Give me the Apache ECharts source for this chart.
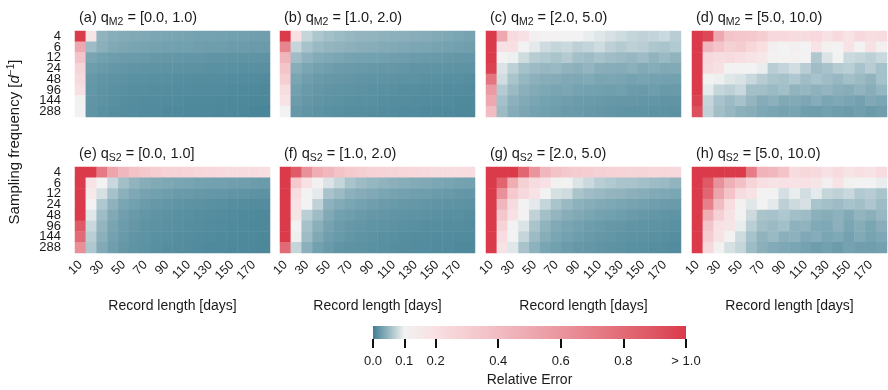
<!DOCTYPE html>
<html>
<head>
<meta charset="utf-8">
<script src="https://cdn.jsdelivr.net/npm/echarts@6/dist/echarts.min.js"></script>
<style>
html,body{margin:0;padding:0;background:#fff;}
#chart{width:888px;height:390px;}
</style>
</head>
<body>
<div id="chart"></div>
<script>
// ---------- categories ----------
const recordLengths = ['10','20','30','40','50','60','70','80','90','100','110','120','130','140','150','160','170','180'];
const samplingFreqs = ['4','6','12','24','48','96','144','288'];
const colorbarTicks = [0, 0.1, 0.2, 0.4, 0.6, 0.8, 1.0];

// ---------- panel titles ----------
const panelTags = ['(a)','(b)','(c)','(d)','(e)','(f)','(g)','(h)'];
const panelSubs = ['M2','M2','M2','M2','S2','S2','S2','S2'];
const panelRanges = ['[0.0, 1.0)','[1.0, 2.0)','[2.0, 5.0)','[5.0, 10.0)','[0.0, 1.0]','[1.0, 2.0)','[2.0, 5.0)','[5.0, 10.0)'];

// ---------- relative error, rows = sampling frequency, cols = record length ----------
const errM2_0_1 = [
[1.0,0.17,0.045,0.04,0.038,0.036,0.035,0.034,0.033,0.032,0.031,0.03,0.03,0.029,0.028,0.028,0.027,0.027],
[0.5,0.053,0.042,0.036,0.034,0.032,0.031,0.03,0.029,0.028,0.028,0.027,0.026,0.026,0.025,0.025,0.024,0.024],
[0.35,0.032,0.028,0.026,0.025,0.024,0.023,0.022,0.021,0.021,0.02,0.02,0.019,0.019,0.018,0.018,0.018,0.017],
[0.26,0.026,0.023,0.021,0.02,0.019,0.018,0.018,0.017,0.017,0.016,0.016,0.015,0.015,0.015,0.014,0.014,0.014],
[0.23,0.022,0.019,0.017,0.016,0.015,0.015,0.014,0.014,0.013,0.013,0.012,0.012,0.012,0.011,0.011,0.011,0.01],
[0.2,0.02,0.017,0.015,0.014,0.013,0.013,0.012,0.012,0.011,0.011,0.01,0.01,0.01,0.009,0.009,0.009,0.008],
[0.11,0.019,0.016,0.014,0.013,0.012,0.011,0.011,0.01,0.01,0.009,0.009,0.009,0.008,0.008,0.008,0.007,0.007],
[0.1,0.018,0.015,0.013,0.012,0.011,0.01,0.01,0.009,0.009,0.008,0.008,0.008,0.007,0.007,0.007,0.006,0.006]
];
const errM2_1_2 = [
[1.0,0.2,0.075,0.062,0.056,0.052,0.049,0.047,0.046,0.044,0.043,0.042,0.04,0.039,0.037,0.035,0.033,0.031],
[0.68,0.075,0.058,0.05,0.047,0.045,0.043,0.041,0.04,0.038,0.037,0.035,0.034,0.033,0.031,0.03,0.028,0.027],
[0.44,0.054,0.044,0.038,0.035,0.033,0.031,0.03,0.029,0.028,0.027,0.026,0.025,0.024,0.023,0.022,0.021,0.02],
[0.35,0.04,0.033,0.029,0.027,0.025,0.024,0.023,0.022,0.021,0.021,0.02,0.019,0.019,0.018,0.018,0.017,0.017],
[0.3,0.033,0.027,0.024,0.022,0.021,0.02,0.019,0.018,0.018,0.017,0.016,0.016,0.015,0.015,0.014,0.014,0.013],
[0.21,0.028,0.023,0.021,0.019,0.018,0.017,0.016,0.015,0.015,0.014,0.013,0.013,0.012,0.012,0.011,0.011,0.01],
[0.18,0.025,0.021,0.019,0.017,0.016,0.015,0.014,0.014,0.013,0.012,0.012,0.011,0.011,0.01,0.01,0.009,0.009],
[0.1,0.022,0.019,0.017,0.015,0.014,0.013,0.013,0.012,0.011,0.011,0.01,0.01,0.009,0.009,0.009,0.008,0.008]
];
const errM2_2_5 = [
[1.0,0.5,0.22,0.19,0.12,0.105,0.1,0.1,0.1,0.095,0.09,0.085,0.08,0.075,0.072,0.074,0.078,0.068],
[1.0,0.19,0.2,0.1,0.092,0.08,0.075,0.078,0.07,0.074,0.08,0.07,0.066,0.07,0.068,0.062,0.06,0.064],
[1.0,0.1,0.098,0.08,0.067,0.064,0.06,0.065,0.056,0.053,0.058,0.054,0.051,0.049,0.053,0.045,0.05,0.045],
[0.97,0.087,0.07,0.057,0.052,0.049,0.05,0.045,0.043,0.047,0.041,0.04,0.039,0.042,0.037,0.039,0.036,0.037],
[0.75,0.082,0.06,0.048,0.043,0.04,0.039,0.036,0.035,0.037,0.033,0.034,0.032,0.03,0.032,0.03,0.029,0.028],
[0.58,0.066,0.051,0.042,0.038,0.035,0.032,0.034,0.03,0.029,0.028,0.027,0.028,0.025,0.024,0.026,0.023,0.024],
[0.5,0.057,0.043,0.037,0.033,0.03,0.028,0.027,0.025,0.024,0.023,0.022,0.021,0.021,0.02,0.02,0.019,0.019],
[0.4,0.052,0.039,0.034,0.03,0.028,0.026,0.024,0.023,0.022,0.021,0.02,0.019,0.018,0.018,0.017,0.017,0.016]
];
const errM2_5_10 = [
[1.0,0.95,0.5,0.35,0.34,0.33,0.3,0.24,0.24,0.22,0.22,0.24,0.19,0.23,0.18,0.24,0.21,0.22],
[1.0,0.42,0.35,0.29,0.31,0.25,0.2,0.12,0.1,0.12,0.1,0.18,0.11,0.1,0.18,0.1,0.19,0.12],
[1.0,0.24,0.21,0.22,0.2,0.18,0.16,0.11,0.1,0.11,0.1,0.063,0.087,0.1,0.078,0.075,0.07,0.077],
[1.0,0.22,0.19,0.1,0.1,0.1,0.095,0.068,0.074,0.082,0.068,0.054,0.058,0.066,0.069,0.059,0.067,0.057],
[1.0,0.1,0.098,0.09,0.086,0.077,0.067,0.06,0.057,0.063,0.054,0.059,0.054,0.049,0.056,0.051,0.045,0.057],
[1.0,0.093,0.075,0.07,0.077,0.056,0.055,0.05,0.055,0.045,0.048,0.044,0.047,0.042,0.04,0.045,0.041,0.048],
[0.97,0.075,0.059,0.052,0.058,0.047,0.039,0.043,0.036,0.037,0.034,0.039,0.033,0.035,0.032,0.029,0.036,0.033],
[0.92,0.072,0.055,0.049,0.043,0.041,0.035,0.033,0.031,0.032,0.027,0.026,0.028,0.026,0.025,0.027,0.024,0.027]
];
const errS2_0_1 = [
[1.0,1.0,0.73,0.52,0.42,0.36,0.33,0.3,0.28,0.27,0.26,0.25,0.24,0.23,0.22,0.22,0.21,0.2],
[1.0,0.18,0.1,0.077,0.056,0.045,0.04,0.037,0.035,0.033,0.032,0.03,0.029,0.028,0.027,0.026,0.025,0.024],
[1.0,0.15,0.084,0.057,0.042,0.035,0.031,0.028,0.026,0.024,0.023,0.022,0.021,0.02,0.019,0.018,0.017,0.016],
[1.0,0.1,0.063,0.044,0.033,0.028,0.025,0.022,0.02,0.019,0.017,0.016,0.015,0.014,0.013,0.012,0.011,0.011],
[1.0,0.09,0.053,0.036,0.027,0.023,0.02,0.018,0.016,0.015,0.014,0.013,0.012,0.011,0.01,0.009,0.009,0.008],
[0.88,0.077,0.047,0.032,0.025,0.021,0.018,0.016,0.015,0.014,0.013,0.012,0.011,0.01,0.009,0.009,0.008,0.008],
[0.8,0.069,0.042,0.029,0.023,0.019,0.017,0.015,0.014,0.013,0.012,0.011,0.01,0.009,0.009,0.008,0.008,0.007],
[0.63,0.063,0.037,0.027,0.021,0.018,0.016,0.014,0.013,0.012,0.011,0.01,0.009,0.009,0.008,0.008,0.007,0.007]
];
const errS2_1_2 = [
[1.0,0.87,0.62,0.48,0.42,0.36,0.32,0.3,0.28,0.27,0.26,0.25,0.24,0.23,0.22,0.22,0.21,0.21],
[1.0,0.32,0.19,0.11,0.087,0.075,0.06,0.053,0.048,0.045,0.042,0.04,0.038,0.036,0.034,0.032,0.03,0.029],
[1.0,0.21,0.1,0.092,0.059,0.051,0.043,0.039,0.036,0.033,0.031,0.029,0.027,0.026,0.024,0.023,0.021,0.02],
[1.0,0.18,0.1,0.072,0.044,0.038,0.033,0.03,0.027,0.025,0.023,0.022,0.021,0.02,0.019,0.018,0.017,0.016],
[1.0,0.17,0.069,0.053,0.037,0.029,0.026,0.023,0.021,0.02,0.019,0.018,0.017,0.016,0.015,0.014,0.014,0.013],
[1.0,0.1,0.057,0.042,0.031,0.025,0.022,0.02,0.018,0.017,0.016,0.015,0.014,0.013,0.013,0.012,0.012,0.011],
[1.0,0.098,0.053,0.036,0.027,0.023,0.02,0.018,0.016,0.015,0.014,0.013,0.012,0.012,0.011,0.011,0.01,0.01],
[0.8,0.075,0.042,0.028,0.023,0.019,0.017,0.016,0.015,0.014,0.013,0.012,0.011,0.011,0.01,0.01,0.009,0.009]
];
const errS2_2_5 = [
[1.0,1.0,1.0,0.82,0.6,0.42,0.36,0.33,0.31,0.3,0.29,0.28,0.27,0.26,0.26,0.25,0.25,0.24],
[1.0,0.83,0.48,0.29,0.22,0.19,0.11,0.1,0.087,0.078,0.068,0.064,0.06,0.059,0.056,0.053,0.05,0.046],
[1.0,0.62,0.32,0.24,0.18,0.1,0.084,0.08,0.06,0.054,0.05,0.047,0.045,0.042,0.04,0.037,0.035,0.033],
[1.0,0.43,0.22,0.1,0.092,0.075,0.06,0.05,0.044,0.04,0.037,0.035,0.033,0.031,0.029,0.027,0.025,0.024],
[1.0,0.34,0.19,0.1,0.072,0.056,0.047,0.04,0.036,0.033,0.03,0.028,0.026,0.024,0.022,0.02,0.019,0.018],
[1.0,0.27,0.1,0.087,0.06,0.045,0.037,0.032,0.029,0.026,0.024,0.022,0.021,0.019,0.018,0.017,0.016,0.015],
[1.0,0.21,0.1,0.075,0.052,0.04,0.033,0.029,0.026,0.023,0.021,0.02,0.018,0.017,0.016,0.015,0.014,0.013],
[1.0,0.18,0.09,0.059,0.044,0.033,0.028,0.025,0.022,0.02,0.019,0.017,0.016,0.015,0.014,0.013,0.012,0.011]
];
const errS2_5_10 = [
[1.0,1.0,1.0,1.0,1.0,0.72,0.45,0.42,0.36,0.22,0.25,0.23,0.19,0.22,0.18,0.2,0.18,0.22],
[1.0,0.88,0.62,0.46,0.38,0.26,0.2,0.18,0.19,0.18,0.19,0.17,0.12,0.18,0.11,0.1,0.1,0.095],
[1.0,0.82,0.52,0.36,0.22,0.18,0.1,0.1,0.083,0.095,0.082,0.093,0.075,0.071,0.077,0.064,0.067,0.06],
[1.0,0.7,0.4,0.21,0.11,0.09,0.1,0.092,0.07,0.079,0.085,0.06,0.056,0.053,0.058,0.055,0.062,0.053],
[1.0,0.48,0.29,0.18,0.1,0.079,0.06,0.058,0.063,0.055,0.053,0.042,0.04,0.044,0.037,0.046,0.042,0.049],
[1.0,0.35,0.19,0.17,0.095,0.069,0.055,0.051,0.056,0.044,0.045,0.037,0.035,0.043,0.033,0.04,0.033,0.041],
[1.0,0.31,0.18,0.1,0.08,0.058,0.045,0.05,0.042,0.044,0.035,0.039,0.033,0.035,0.029,0.037,0.031,0.035],
[1.0,0.24,0.11,0.084,0.075,0.053,0.042,0.038,0.035,0.033,0.03,0.026,0.028,0.025,0.03,0.027,0.027,0.029]
];
const panels = [errM2_0_1, errM2_1_2, errM2_2_5, errM2_5_10, errS2_0_1, errS2_1_2, errS2_2_5, errS2_5_10];

// ---------- colour scale (teal -> white at 0.1 -> red at 1.0) ----------
const colorStops = [
  [0.0, '#3f7f93'], [0.1, '#f2f2f2'], [0.2, '#f8dfe2'], [0.3, '#f5ced2'], [0.4, '#f1bcc2'],
  [0.5, '#eea9b0'], [0.6, '#ea959e'], [0.7, '#e6808a'], [0.8, '#e26a76'], [0.9, '#de5562'], [1.0, '#da3a4a']
];
function hexToRgb(h){ return [parseInt(h.substr(1,2),16), parseInt(h.substr(3,2),16), parseInt(h.substr(5,2),16)]; }
function colorAt(v){
  for (let i = 1; i < colorStops.length; i++) {
    if (v <= colorStops[i][0] + 1e-9) {
      const a = colorStops[i-1], b = colorStops[i];
      const t = (v - a[0]) / (b[0] - a[0]);
      const ca = hexToRgb(a[1]), cb = hexToRgb(b[1]);
      const c = ca.map((x, k) => Math.round(x + (cb[k] - x) * t));
      return 'rgb(' + c.join(',') + ')';
    }
  }
  return colorStops[colorStops.length-1][1];
}
const palette = [];
for (let i = 0; i <= 100; i++) palette.push(colorAt(i / 100));

// ---------- layout ----------
const FONT = '"Liberation Sans", Arial, Helvetica, sans-serif';
const TXT = '#1a1a1a';
const colLeft = [75, 280, 486, 692];
const rowTop = [31, 167];
const cellW = 195, cellH = 86;

const chart = echarts.init(document.getElementById('chart'), null, {renderer: 'canvas'});

const grids = [], xAxes = [], yAxes = [], series = [], titles = [];
panels.forEach((vals, p) => {
  const r = Math.floor(p / 4), c = p % 4;
  grids.push({left: colLeft[c], top: rowTop[r], width: cellW, height: cellH, containLabel: false});
  xAxes.push({
    type: 'category', gridIndex: p, data: recordLengths,
    axisLine: {show: false}, axisTick: {show: false}, splitLine: {show: false},
    axisLabel: {show: r === 1, interval: 1, rotate: 45, fontSize: 12.5, color: TXT, fontFamily: FONT, margin: 10},
    name: r === 1 ? 'Record length [days]' : '', nameLocation: 'middle', nameGap: 46,
    nameTextStyle: {fontSize: 14, color: TXT, fontFamily: FONT}
  });
  yAxes.push({
    type: 'category', gridIndex: p, data: samplingFreqs, inverse: true,
    axisLine: {show: false}, axisTick: {show: false}, splitLine: {show: false},
    axisLabel: {show: c === 0, interval: 0, fontSize: 13, color: TXT, fontFamily: FONT, margin: 14, lineHeight: 11}
  });
  const data = [];
  vals.forEach((row, yi) => row.forEach((v, xi) => data.push([xi, yi, v])));
  series.push({
    type: 'heatmap', xAxisIndex: p, yAxisIndex: p, data: data,
    emphasis: {disabled: true}, silent: true, progressive: 0,
    itemStyle: {borderWidth: 0}
  });
  titles.push({
    left: colLeft[c] - 1, top: rowTop[r] - 28,
    text: '{n|' + panelTags[p] + ' q}{s|' + panelSubs[p] + '}{n| = ' + panelRanges[p] + '}',
    textStyle: {
      fontWeight: 'normal',
      rich: {
        n: {fontSize: 14.5, fontWeight: 'normal', color: TXT, fontFamily: FONT, lineHeight: 20, verticalAlign: 'middle'},
        s: {fontSize: 10.5, fontWeight: 'normal', color: TXT, fontFamily: FONT, lineHeight: 9, verticalAlign: 'bottom'}
      }
    }
  });
});

// colour bar
grids.push({left: 373, top: 326, width: 313, height: 13});
xAxes.push({
  type: 'value', gridIndex: 8, min: 0, max: 1,
  axisLine: {show: false}, splitLine: {show: false},
  axisTick: {show: true, customValues: colorbarTicks, length: 9, lineStyle: {color: '#111', width: 2}},
  axisLabel: {customValues: colorbarTicks, margin: 16, fontSize: 13, color: TXT, fontFamily: FONT,
    formatter: v => v >= 1 ? '> 1.0' : v.toFixed(1)},
  name: 'Relative Error', nameLocation: 'middle', nameGap: 34,
  nameTextStyle: {fontSize: 14, color: TXT, fontFamily: FONT}
});
yAxes.push({type: 'category', gridIndex: 8, data: ['scale'], show: false});
series.push({
  type: 'bar', xAxisIndex: 8, yAxisIndex: 8, data: [1], barWidth: '100%', silent: true,
  itemStyle: {color: new echarts.graphic.LinearGradient(0, 0, 1, 0,
    colorStops.map(s => ({offset: s[0], color: s[1]})))}
});

chart.setOption({
  animation: false,
  backgroundColor: '#ffffff',
  title: titles,
  grid: grids,
  xAxis: xAxes,
  yAxis: yAxes,
  visualMap: {
    type: 'continuous', show: false, min: 0, max: 1, seriesIndex: [0,1,2,3,4,5,6,7],
    inRange: {color: palette}
  },
  graphic: [{
    type: 'text', x: 15, y: 142, rotation: Math.PI / 2,
    style: {
      text: '{n|Sampling frequency [}{i|d}{s|−1}{n|]}',
      align: 'center', verticalAlign: 'middle',
      rich: {
        n: {fontSize: 15, fill: TXT, fontFamily: FONT, lineHeight: 18, verticalAlign: 'middle'},
        i: {fontSize: 15, fill: TXT, fontFamily: FONT, fontStyle: 'italic', lineHeight: 18, verticalAlign: 'middle'},
        s: {fontSize: 10, fill: TXT, fontFamily: FONT, lineHeight: 9, verticalAlign: 'top'}
      }
    }
  }],
  series: series
});
</script>
</body>
</html>
